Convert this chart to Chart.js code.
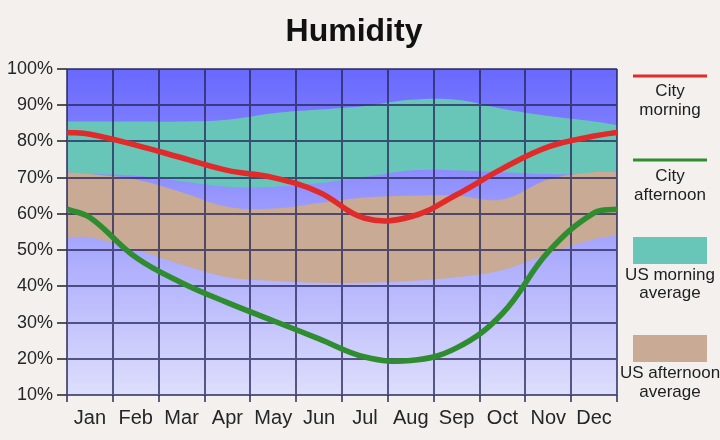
<!DOCTYPE html>
<html>
<head>
<meta charset="utf-8">
<script src="https://cdn.jsdelivr.net/npm/chart.js@4/dist/chart.umd.min.js"></script>
<style>
  html, body { margin: 0; padding: 0; background: #f3f0ed; }
  #wrap { width: 720px; height: 440px; }
</style>
</head>
<body>
<div id="wrap"><canvas id="myChart" width="720" height="440"></canvas></div>
<script>
// Month labels along the x-axis
var months = ["Jan","Feb","Mar","Apr","May","Jun","Jul","Aug","Sep","Oct","Nov","Dec"];
// x position of each value: plot edge, month centres, plot edge
var monthPos = [0, 0.5, 1.5, 2.5, 3.5, 4.5, 5.5, 6.5, 7.5, 8.5, 9.5, 10.5, 11.5, 12];
// y-axis ticks (%)
var yTicks = [10, 20, 30, 40, 50, 60, 70, 80, 90, 100];

// Humidity values (%)
var cityMorning   = [82.5, 82, 79, 75.5, 72, 70, 66, 58.8, 59.2, 65.3, 72.5, 78.5, 81.5, 82.5];
var cityAfternoon = [61.3, 59, 48, 41, 35.5, 30.5, 25.5, 20.5, 19.5, 23, 32.5, 49.5, 60.3, 61.3];
var usMorningHigh = [85.5, 85.5, 85.5, 85.5, 86, 87.8, 88.8, 89.8, 91.5, 91.5, 89, 87, 85.5, 84.5];
var usMorningLow  = [71.5, 71, 70.5, 69, 67.5, 67.5, 68.5, 70.2, 72, 72, 71.5, 71, 71, 71.5];
var usAfternoonHigh = [71.5, 71, 69.5, 66, 62, 61.5, 63, 64.5, 65, 65, 64, 69.5, 71.5, 71.5];
var usAfternoonLow  = [53.5, 53.5, 50, 46, 42.5, 41.5, 41, 41, 41.5, 42.5, 44.5, 49, 53, 54];

var teal = "#68c6b9";
var tan = "#c8aa95";
var red = "#e12a2a";
var green = "#2f8d2f";
var gridCol = "rgba(35,35,85,0.72)";
var fontFam = "'Liberation Sans', Arial, sans-serif";

function pts(values) {
  return values.map(function (v, i) { return { x: monthPos[i], y: v }; });
}

function band(values, fill, color) {
  return {
    data: pts(values),
    borderWidth: 0,
    pointRadius: 0,
    tension: 0.4,
    fill: fill,
    backgroundColor: color
  };
}

function cityLine(values, color) {
  return {
    data: pts(values),
    borderColor: color,
    borderWidth: 5.5,
    pointRadius: 0,
    tension: 0.4,
    fill: false
  };
}

// gradient behind the plot, grid over the bands, title and legend
var decor = {
  id: "decor",
  beforeDraw: function (chart) {
    var a = chart.chartArea, c = chart.ctx;
    var g = c.createLinearGradient(0, a.top, 0, a.bottom);
    g.addColorStop(0, "#6868ff");
    g.addColorStop(1, "#dedefc");
    c.save();
    c.fillStyle = g;
    c.fillRect(a.left, a.top, a.right - a.left, a.bottom - a.top);
    c.restore();
  },
  beforeDatasetsDraw: function (chart) {
    var a = chart.chartArea, c = chart.ctx;
    var xs = chart.scales.x, ys = chart.scales.y;
    c.save();
    c.strokeStyle = gridCol;
    c.lineWidth = 2;
    c.beginPath();
    for (var i = 0; i <= months.length; i++) {
      var px = Math.round(xs.getPixelForValue(i));
      c.moveTo(px, a.top);
      c.lineTo(px, a.bottom);
    }
    yTicks.forEach(function (v) {
      var py = Math.round(ys.getPixelForValue(v));
      c.moveTo(a.left, py);
      c.lineTo(a.right, py);
    });
    c.stroke();
    c.restore();
  },
  afterDraw: function (chart) {
    var c = chart.ctx;
    c.save();
    c.fillStyle = "#111";
    c.font = "bold 32px " + fontFam;
    c.textAlign = "center";
    c.textBaseline = "alphabetic";
    c.fillText("Humidity", 354, 41);

    var lx = 633, lw = 74, cx = 670;
    c.lineWidth = 3;
    c.strokeStyle = red;
    c.beginPath(); c.moveTo(lx, 76); c.lineTo(lx + lw, 76); c.stroke();
    c.strokeStyle = green;
    c.beginPath(); c.moveTo(lx, 160); c.lineTo(lx + lw, 160); c.stroke();
    c.fillStyle = teal;
    c.fillRect(lx, 237, lw, 27);
    c.fillStyle = tan;
    c.fillRect(lx, 335, lw, 27);

    c.fillStyle = "#1e1e1e";
    c.font = "17px " + fontFam;
    c.textBaseline = "middle";
    var lines = [
      ["City", 91], ["morning", 110],
      ["City", 176], ["afternoon", 195],
      ["US morning", 275], ["average", 293],
      ["US afternoon", 373], ["average", 392]
    ];
    lines.forEach(function (l) { c.fillText(l[0], cx, l[1]); });
    c.restore();
  }
};

var ctx = document.getElementById("myChart");
var myChart = new Chart(ctx, {
  type: "line",
  data: {
    datasets: [
      band(usAfternoonHigh, "+1", tan),
      band(usAfternoonLow, false, tan),
      band(usMorningHigh, "+1", teal),
      band(usMorningLow, false, teal),
      cityLine(cityMorning, red),
      cityLine(cityAfternoon, green)
    ]
  },
  options: {
    responsive: false,
    animation: false,
    layout: { padding: { top: 69, right: 103, left: 0, bottom: 0 } },
    plugins: {
      legend: { display: false },
      tooltip: { enabled: false },
      filler: { drawTime: "beforeDatasetsDraw" }
    },
    scales: {
      x: {
        type: "linear",
        min: 0,
        max: 12,
        afterFit: function (s) { s.height = 45; },
        border: { display: false },
        grid: {
          drawOnChartArea: false,
          tickLength: 7,
          lineWidth: 2,
          tickColor: function (c) {
            return c.tick && c.tick.value % 1 === 0 ? gridCol : "transparent";
          }
        },
        ticks: {
          stepSize: 0.5,
          autoSkip: false,
          maxRotation: 0,
          padding: 4,
          color: "#262626",
          font: { family: fontFam, size: 20 },
          callback: function (v) {
            return v % 1 === 0.5 ? months[Math.floor(v)] : "";
          }
        }
      },
      y: {
        min: 10,
        max: 100,
        afterFit: function (s) { s.width = 67; },
        border: { display: false },
        grid: {
          drawOnChartArea: false,
          tickLength: 10,
          lineWidth: 2,
          tickColor: "#555"
        },
        ticks: {
          stepSize: 10,
          padding: 4,
          color: "#262626",
          font: { family: fontFam, size: 18 },
          callback: function (v) { return v + "%"; }
        }
      }
    }
  },
  plugins: [decor]
});
</script>
</body>
</html>
